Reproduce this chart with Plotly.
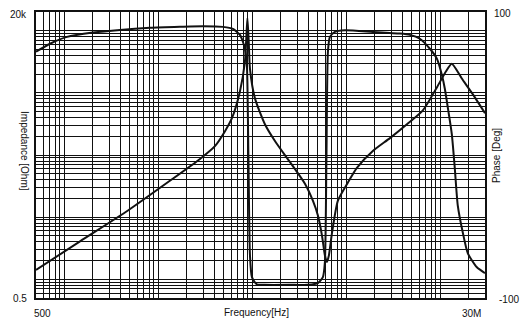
import math
import plotly.graph_objects as go

# Impedance magnitude sweep (Hz, Ohm)
imp_freq = [500, 1470, 4760, 13300, 27800, 40100, 51300, 60800, 74000, 83600,
            86300, 88900, 91800, 94600, 106900, 136500, 174500, 234000, 284000,
            364000, 442000, 500000, 552000, 593000, 624000, 655000, 705000,
            816000, 1040000, 1300000, 1920000, 2920000, 4430000, 6550000,
            9220000, 11500000, 13300000, 17000000, 22300000, 30000000]
imp_ohm = [1.41, 4.08, 12.8, 38.5, 86.5, 139, 242, 391, 1055, 3180,
           7140, 16000, 6640, 2460, 815, 313, 168, 89.7, 59.8,
           34.5, 18.4, 10.6, 5.09, 2.44, 1.9, 2.44, 5.48,
           18.4, 35.8, 62.1, 116, 187, 313, 524,
           1222, 2200, 2950, 1700, 944, 470]

# Phase sweep (Hz, degrees)
ph_freq = [500, 705, 1069, 2020, 3915, 8160, 17000, 29900, 48800, 62400,
           74000, 79600, 84700, 87900, 91200, 94600, 99300, 112000, 136000,
           284000, 392000, 500000, 565000, 593000, 616000, 639000, 671000,
           758000, 968000, 1920000, 3730000, 4760000, 6080000, 7770000,
           9220000, 10400000, 11200000, 12100000, 13300000, 14300000,
           15400000, 17500000, 19700000, 24600000, 30000000]
ph_deg = [72.2, 77.8, 82.6, 85.6, 87.5, 88.9, 89.6, 90.0, 89.6, 88.2,
          84.0, 79.2, 72.2, 61.8, -4.2, -70.1, -85.4, -90.5, -90.8,
          -90.8, -90.8, -89.6, -85.4, -75.0, -4.2, 72.2, 82.6,
          86.1, 87.2, 86.1, 84.9, 84.0, 81.3, 74.3,
          67.4, 56.3, 46.5, 32.6, 14.6, -9.0,
          -35.4, -54.9, -68.8, -78.5, -82.6]

F_MIN, F_MAX = 500, 30e6
Z_MIN, Z_MAX = 0.5, 20000
P_MIN, P_MAX = -100, 100

INK = "#111111"
FONT = dict(family="Liberation Sans, Arial, sans-serif", size=10, color=INK)

W, H = 527, 324
ML, MR, MT, MB = 36, 42, 10, 26


def log_grid(lo, hi):
    """1..9 x 10^k gridline positions inside [lo, hi]."""
    vals = []
    for k in range(math.floor(math.log10(lo)) - 1, math.ceil(math.log10(hi)) + 1):
        for m in range(1, 10):
            v = m * 10 ** k
            if lo * 0.999 <= v <= hi * 1.001:
                vals.append(v)
    return vals


fig = go.Figure()
fig.add_trace(go.Scatter(
    x=imp_freq, y=imp_ohm, mode="lines", name="Impedance",
    line=dict(color=INK, width=2, shape="spline", smoothing=0.6),
    yaxis="y"))
fig.add_trace(go.Scatter(
    x=ph_freq, y=ph_deg, mode="lines", name="Phase",
    line=dict(color=INK, width=2, shape="spline", smoothing=0.6),
    yaxis="y2"))

axis_common = dict(showgrid=True, gridcolor=INK, gridwidth=1.4,
                   showline=True, linecolor=INK, linewidth=1.6, mirror=True,
                   showticklabels=False, ticks="", zeroline=False)

fig.update_layout(
    width=W, height=H,
    margin=dict(l=ML, r=MR, t=MT, b=MB, pad=0),
    paper_bgcolor="white", plot_bgcolor="white",
    showlegend=False,
    font=FONT,
    xaxis=dict(type="log", range=[math.log10(F_MIN), math.log10(F_MAX)],
               tickmode="array", tickvals=log_grid(F_MIN, F_MAX), **axis_common),
    yaxis=dict(type="log", range=[math.log10(Z_MIN), math.log10(Z_MAX)],
               tickmode="array", tickvals=log_grid(Z_MIN, Z_MAX), **axis_common),
    yaxis2=dict(overlaying="y", side="right", range=[P_MIN, P_MAX],
                showgrid=False, showticklabels=False, ticks="", zeroline=False,
                showline=False),
)

pw, ph = W - ML - MR, H - MT - MB


def px(x):
    return (x - ML) / pw


def py(y):
    return (H - MB - y) / ph


labels = [
    ("20k", px(29), py(13), "right", 0),
    ("0.5", px(29), py(299), "right", 0),
    ("500", px(32), py(314), "left", 0),
    ("30M", px(483), py(314), "right", 0),
    ("Frequency[Hz]", px(256), py(313), "center", 0),
    ("100", px(492), py(12), "left", 0),
    ("-100", px(497), py(300), "left", 0),
    ("Impedance [Ohm]", px(25), py(150), "center", 90),
    ("Phase [Deg]", px(497), py(155), "center", -90),
]
for text, x, y, anchor, ang in labels:
    fig.add_annotation(text=text, x=x, y=y, xref="paper", yref="paper",
                       xanchor=anchor, yanchor="middle", showarrow=False,
                       textangle=ang, font=FONT)

fig.write_html("out.html")
